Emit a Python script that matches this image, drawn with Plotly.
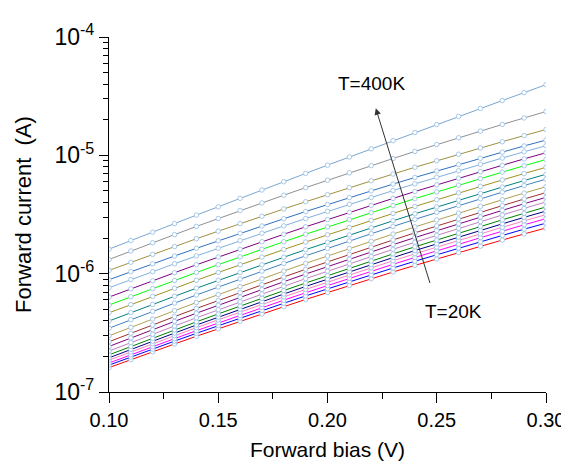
import plotly.graph_objects as go

# forward bias (V)
bias_v = [0.10, 0.11, 0.12, 0.13, 0.14, 0.15, 0.16, 0.17, 0.18, 0.19, 0.20,
          0.21, 0.22, 0.23, 0.24, 0.25, 0.26, 0.27, 0.28, 0.29, 0.30]

# log10 of forward current (A), one list per temperature
log_i_20k = [-6.794, -6.726, -6.660, -6.594, -6.529, -6.465, -6.402, -6.340, -6.279, -6.218, -6.159,
             -6.100, -6.043, -5.986, -5.930, -5.875, -5.821, -5.768, -5.716, -5.664, -5.614]
log_i_40k = [-6.773, -6.704, -6.637, -6.570, -6.504, -6.439, -6.375, -6.312, -6.250, -6.188, -6.128,
             -6.068, -6.010, -5.952, -5.895, -5.839, -5.784, -5.730, -5.677, -5.624, -5.573]
log_i_60k = [-6.755, -6.685, -6.617, -6.549, -6.482, -6.416, -6.351, -6.287, -6.224, -6.161, -6.100,
             -6.039, -5.980, -5.921, -5.863, -5.806, -5.750, -5.695, -5.641, -5.587, -5.535]
log_i_80k = [-6.731, -6.661, -6.592, -6.524, -6.456, -6.390, -6.324, -6.260, -6.196, -6.133, -6.071,
             -6.010, -5.950, -5.891, -5.832, -5.775, -5.718, -5.663, -5.608, -5.554, -5.501]
log_i_100k = [-6.711, -6.640, -6.571, -6.502, -6.434, -6.367, -6.301, -6.236, -6.172, -6.108, -6.046,
              -5.984, -5.924, -5.864, -5.805, -5.747, -5.690, -5.634, -5.579, -5.524, -5.471]
log_i_120k = [-6.686, -6.615, -6.545, -6.476, -6.407, -6.340, -6.273, -6.208, -6.143, -6.079, -6.016,
              -5.954, -5.893, -5.833, -5.773, -5.715, -5.657, -5.601, -5.545, -5.490, -5.436]
log_i_140k = [-6.654, -6.582, -6.512, -6.442, -6.373, -6.305, -6.238, -6.172, -6.107, -6.042, -5.979,
              -5.916, -5.855, -5.794, -5.734, -5.675, -5.617, -5.560, -5.504, -5.448, -5.394]
log_i_160k = [-6.615, -6.543, -6.473, -6.403, -6.334, -6.266, -6.199, -6.133, -6.068, -6.003, -5.940,
              -5.877, -5.816, -5.755, -5.695, -5.636, -5.578, -5.521, -5.465, -5.409, -5.355]
log_i_180k = [-6.575, -6.503, -6.433, -6.363, -6.294, -6.226, -6.159, -6.093, -6.028, -5.963, -5.900,
              -5.837, -5.776, -5.715, -5.655, -5.596, -5.538, -5.481, -5.425, -5.369, -5.315]
log_i_200k = [-6.525, -6.453, -6.383, -6.313, -6.244, -6.176, -6.109, -6.043, -5.978, -5.913, -5.850,
              -5.787, -5.726, -5.665, -5.605, -5.546, -5.488, -5.431, -5.375, -5.319, -5.265]
log_i_220k = [-6.461, -6.389, -6.319, -6.249, -6.180, -6.112, -6.045, -5.979, -5.914, -5.849, -5.786,
              -5.723, -5.662, -5.601, -5.541, -5.482, -5.424, -5.367, -5.311, -5.255, -5.201]
log_i_240k = [-6.400, -6.329, -6.260, -6.191, -6.123, -6.056, -5.990, -5.925, -5.861, -5.797, -5.735,
              -5.673, -5.613, -5.553, -5.494, -5.436, -5.379, -5.323, -5.268, -5.213, -5.160]
log_i_260k = [-6.331, -6.261, -6.192, -6.124, -6.056, -5.990, -5.924, -5.860, -5.796, -5.733, -5.671,
              -5.610, -5.550, -5.491, -5.432, -5.375, -5.318, -5.263, -5.208, -5.154, -5.101]
log_i_280k = [-6.265, -6.195, -6.126, -6.058, -5.990, -5.924, -5.858, -5.794, -5.730, -5.667, -5.605,
              -5.544, -5.484, -5.425, -5.366, -5.309, -5.252, -5.197, -5.142, -5.088, -5.035]
log_i_300k = [-6.198, -6.128, -6.060, -5.992, -5.925, -5.859, -5.794, -5.730, -5.667, -5.604, -5.543,
              -5.482, -5.423, -5.364, -5.306, -5.249, -5.193, -5.138, -5.084, -5.030, -4.978]
log_i_320k = [-6.119, -6.050, -5.983, -5.916, -5.850, -5.785, -5.721, -5.658, -5.596, -5.534, -5.474,
              -5.414, -5.356, -5.298, -5.241, -5.185, -5.130, -5.076, -5.023, -4.970, -4.919]
log_i_340k = [-6.051, -5.983, -5.917, -5.851, -5.786, -5.722, -5.659, -5.597, -5.536, -5.475, -5.416,
              -5.357, -5.300, -5.243, -5.187, -5.132, -5.078, -5.025, -4.973, -4.921, -4.871]
log_i_360k = [-5.972, -5.904, -5.837, -5.771, -5.705, -5.641, -5.577, -5.515, -5.453, -5.392, -5.332,
              -5.273, -5.215, -5.158, -5.101, -5.046, -4.991, -4.938, -4.885, -4.833, -4.782]
log_i_380k = [-5.880, -5.808, -5.739, -5.670, -5.601, -5.534, -5.467, -5.402, -5.337, -5.273, -5.210,
              -5.148, -5.087, -5.027, -4.967, -4.909, -4.851, -4.795, -4.739, -4.684, -4.630]
log_i_400k = [-5.793, -5.720, -5.649, -5.577, -5.505, -5.435, -5.363, -5.293, -5.223, -5.153, -5.083,
              -5.014, -4.945, -4.876, -4.807, -4.740, -4.671, -4.604, -4.537, -4.470, -4.403]

temps_k = [20, 40, 60, 80, 100, 120, 140, 160, 180, 200,
           220, 240, 260, 280, 300, 320, 340, 360, 380, 400]
curves = [log_i_20k, log_i_40k, log_i_60k, log_i_80k, log_i_100k,
          log_i_120k, log_i_140k, log_i_160k, log_i_180k, log_i_200k,
          log_i_220k, log_i_240k, log_i_260k, log_i_280k, log_i_300k,
          log_i_320k, log_i_340k, log_i_360k, log_i_380k, log_i_400k]
line_colors = ['#ff0000', '#0000ff', '#ff00ff', '#ff80c0', '#000080',
               '#008000', '#c080c0', '#800080', '#a03030', '#b0a050',
               '#4080c0', '#008080', '#a09020', '#00ff00', '#800080',
               '#80b0e0', '#3070c0', '#a09040', '#909090', '#7aa6d0']

y_major = [1e-7, 1e-6, 1e-5, 1e-4]
y_major_text = ['10<sup>-7</sup>', '10<sup>-6</sup>', '10<sup>-5</sup>', '10<sup>-4</sup>']
y_minor = [m * 10.0 ** e for e in (-7, -6, -5) for m in range(2, 10)]
x_major = [0.10, 0.15, 0.20, 0.25, 0.30]
x_major_text = ['0.10', '0.15', '0.20', '0.25', '0.30']
x_minor = [0.125, 0.175, 0.225, 0.275]

FONT = 'Arial, Liberation Sans, sans-serif'

fig = go.Figure()
for t, logs, col in zip(temps_k, curves, line_colors):
    fig.add_trace(go.Scatter(
        x=bias_v, y=[10.0 ** v for v in logs], mode='lines+markers', name=f'{t}K',
        line=dict(color=col, width=1),
        marker=dict(symbol='circle', size=4.5, color='white',
                    line=dict(color='#9dc3e6', width=0.9)),
        showlegend=False))

# temperature arrow (data coords, log10 on y)
fig.add_annotation(x=0.2221, y=-4.603, ax=0.2471, ay=-6.091, xref='x', yref='y',
                   axref='x', ayref='y', text='', showarrow=True,
                   arrowhead=2, arrowsize=1.3, arrowwidth=1, arrowcolor='#333333')
fig.add_annotation(x=0.220, y=-4.397, text='T=400K', showarrow=False,
                   font=dict(family=FONT, size=19, color='black'))
fig.add_annotation(x=0.2578, y=-6.316, text='T=20K', showarrow=False,
                   font=dict(family=FONT, size=19, color='black'))

fig.update_layout(
    width=569, height=465,
    margin=dict(l=101, r=23, t=25, b=81),
    paper_bgcolor='white', plot_bgcolor='white',
    font=dict(family=FONT, size=21, color='black'),
)
fig.update_xaxes(
    range=[0.10, 0.30], tickmode='array', tickvals=x_major, ticktext=x_major_text,
    ticks='outside', ticklen=10, tickwidth=1.2, tickcolor='black',
    minor=dict(tickmode='array', tickvals=x_minor, ticks='outside', ticklen=6,
               tickwidth=1.2, tickcolor='black'),
    showline=True, linecolor='black', linewidth=1.2, showgrid=False, zeroline=False,
    tickfont=dict(size=20),
    title=dict(text='Forward bias (V)', font=dict(size=21), standoff=12),
)
fig.update_yaxes(
    type='log', range=[-7, -4], tickmode='array', tickvals=y_major, ticktext=y_major_text,
    ticks='outside', ticklen=9, tickwidth=1.2, tickcolor='black',
    minor=dict(tickmode='array', tickvals=y_minor, ticks='outside', ticklen=5,
               tickwidth=1.2, tickcolor='black'),
    showline=True, linecolor='black', linewidth=1.2, showgrid=False, zeroline=False,
    tickfont=dict(size=23),
    title=dict(text='Forward current  (A)', font=dict(size=22), standoff=16),
)

fig.write_html('out.html')
